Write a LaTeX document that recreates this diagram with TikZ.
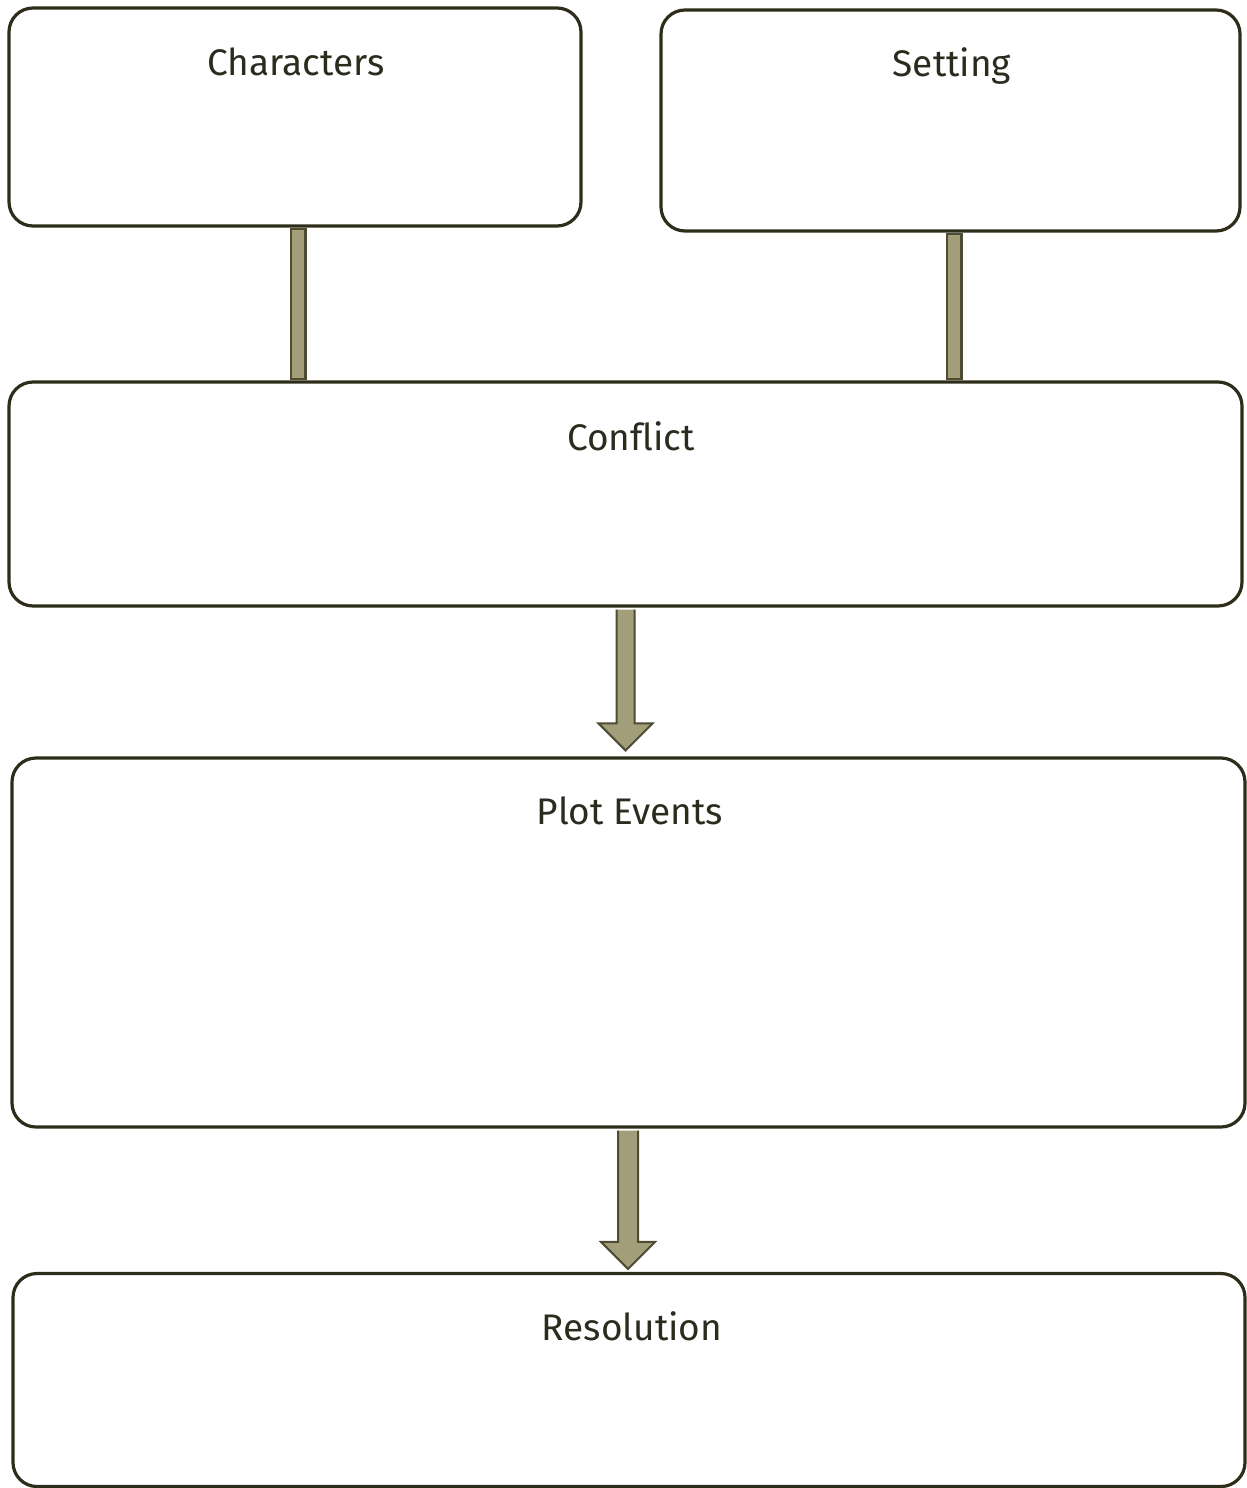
\documentclass[tikz,border=0pt]{standalone}
\usepackage{fontspec}
\setmainfont[Ligatures=NoCommon]{Fira Sans}
\usetikzlibrary{calc}
\definecolor{boxline}{HTML}{2E2D1A}
\definecolor{barfill}{HTML}{A29E7A}
\definecolor{barline}{HTML}{4E4C33}
\definecolor{txt}{HTML}{2B2B1E}
\tikzset{
  panel/.style={draw=boxline, line width=3.2pt, rounded corners=24pt, inner sep=0pt, fill=white},
  title/.style={text=txt, font=\fontsize{37}{40}\selectfont, inner sep=0pt, anchor=base},
  barout/.style={draw=barline, line width=17pt},
  barin/.style={draw=barfill, line width=12pt},
  fatarrow/.style={draw=barline, fill=barfill, line width=2pt, line join=miter}
}
\begin{document}
\begin{tikzpicture}[x=1pt,y=-1pt]
\useasboundingbox (0,0) rectangle (1247,1488);
\fill[white] (0,0) rectangle (1247,1488);
\coordinate (c1) at (298,226);
\coordinate (c2) at (954,231);
\node[panel, minimum width=572pt, minimum height=218pt] (chars) at (295,117) {};
\node[panel, minimum width=579pt, minimum height=221pt] (sett) at (950.5,120.5) {};
\node[panel, minimum width=1233pt, minimum height=224pt] (conf) at (625.5,494) {};
\node[panel, minimum width=1233pt, minimum height=369pt] (plot) at (628.5,942.5) {};
\node[panel, minimum width=1232pt, minimum height=213pt] (reso) at (629,1380) {};
% bars
\draw[barout] (chars.south -| c1) -- (c1 |- conf.north);
\draw[barin] ($(chars.south -| c1)+(0,2)$) -- ($(c1 |- conf.north)+(0,-2)$);
\draw[barout] (sett.south -| c2) -- (c2 |- conf.north);
\draw[barin] ($(sett.south -| c2)+(0,2)$) -- ($(c2 |- conf.north)+(0,-2)$);
% arrows
\coordinate (t1) at ($(plot.north)+(-3,-6)$);
\coordinate (s1) at (t1 |- conf.south);
\draw[fatarrow] ($(s1)+(-9,2)$) -- ($(t1)+(-9,-27)$) -- ($(t1)+(-27,-27)$) -- (t1) -- ($(t1)+(27,-27)$) -- ($(t1)+(9,-27)$) -- ($(s1)+(9,2)$);
\coordinate (t2) at ($(reso.north)+(-1,-3)$);
\coordinate (s2) at (t2 |- plot.south);
\draw[fatarrow] ($(s2)+(-10,2)$) -- ($(t2)+(-10,-27)$) -- ($(t2)+(-27,-27)$) -- (t2) -- ($(t2)+(27,-27)$) -- ($(t2)+(10,-27)$) -- ($(s2)+(10,2)$);
% titles
\node[title] (tchars) at (296,75) {Characters};
\node[title] (tsett) at (952,77) {Setting};
\node[title] (tconf) at (631,450) {Conflict};
\node[title] (tplot) at (630,824) {Plot Events};
\node[title] (treso) at (632,1340) {Resolution};
\end{tikzpicture}
\end{document}
